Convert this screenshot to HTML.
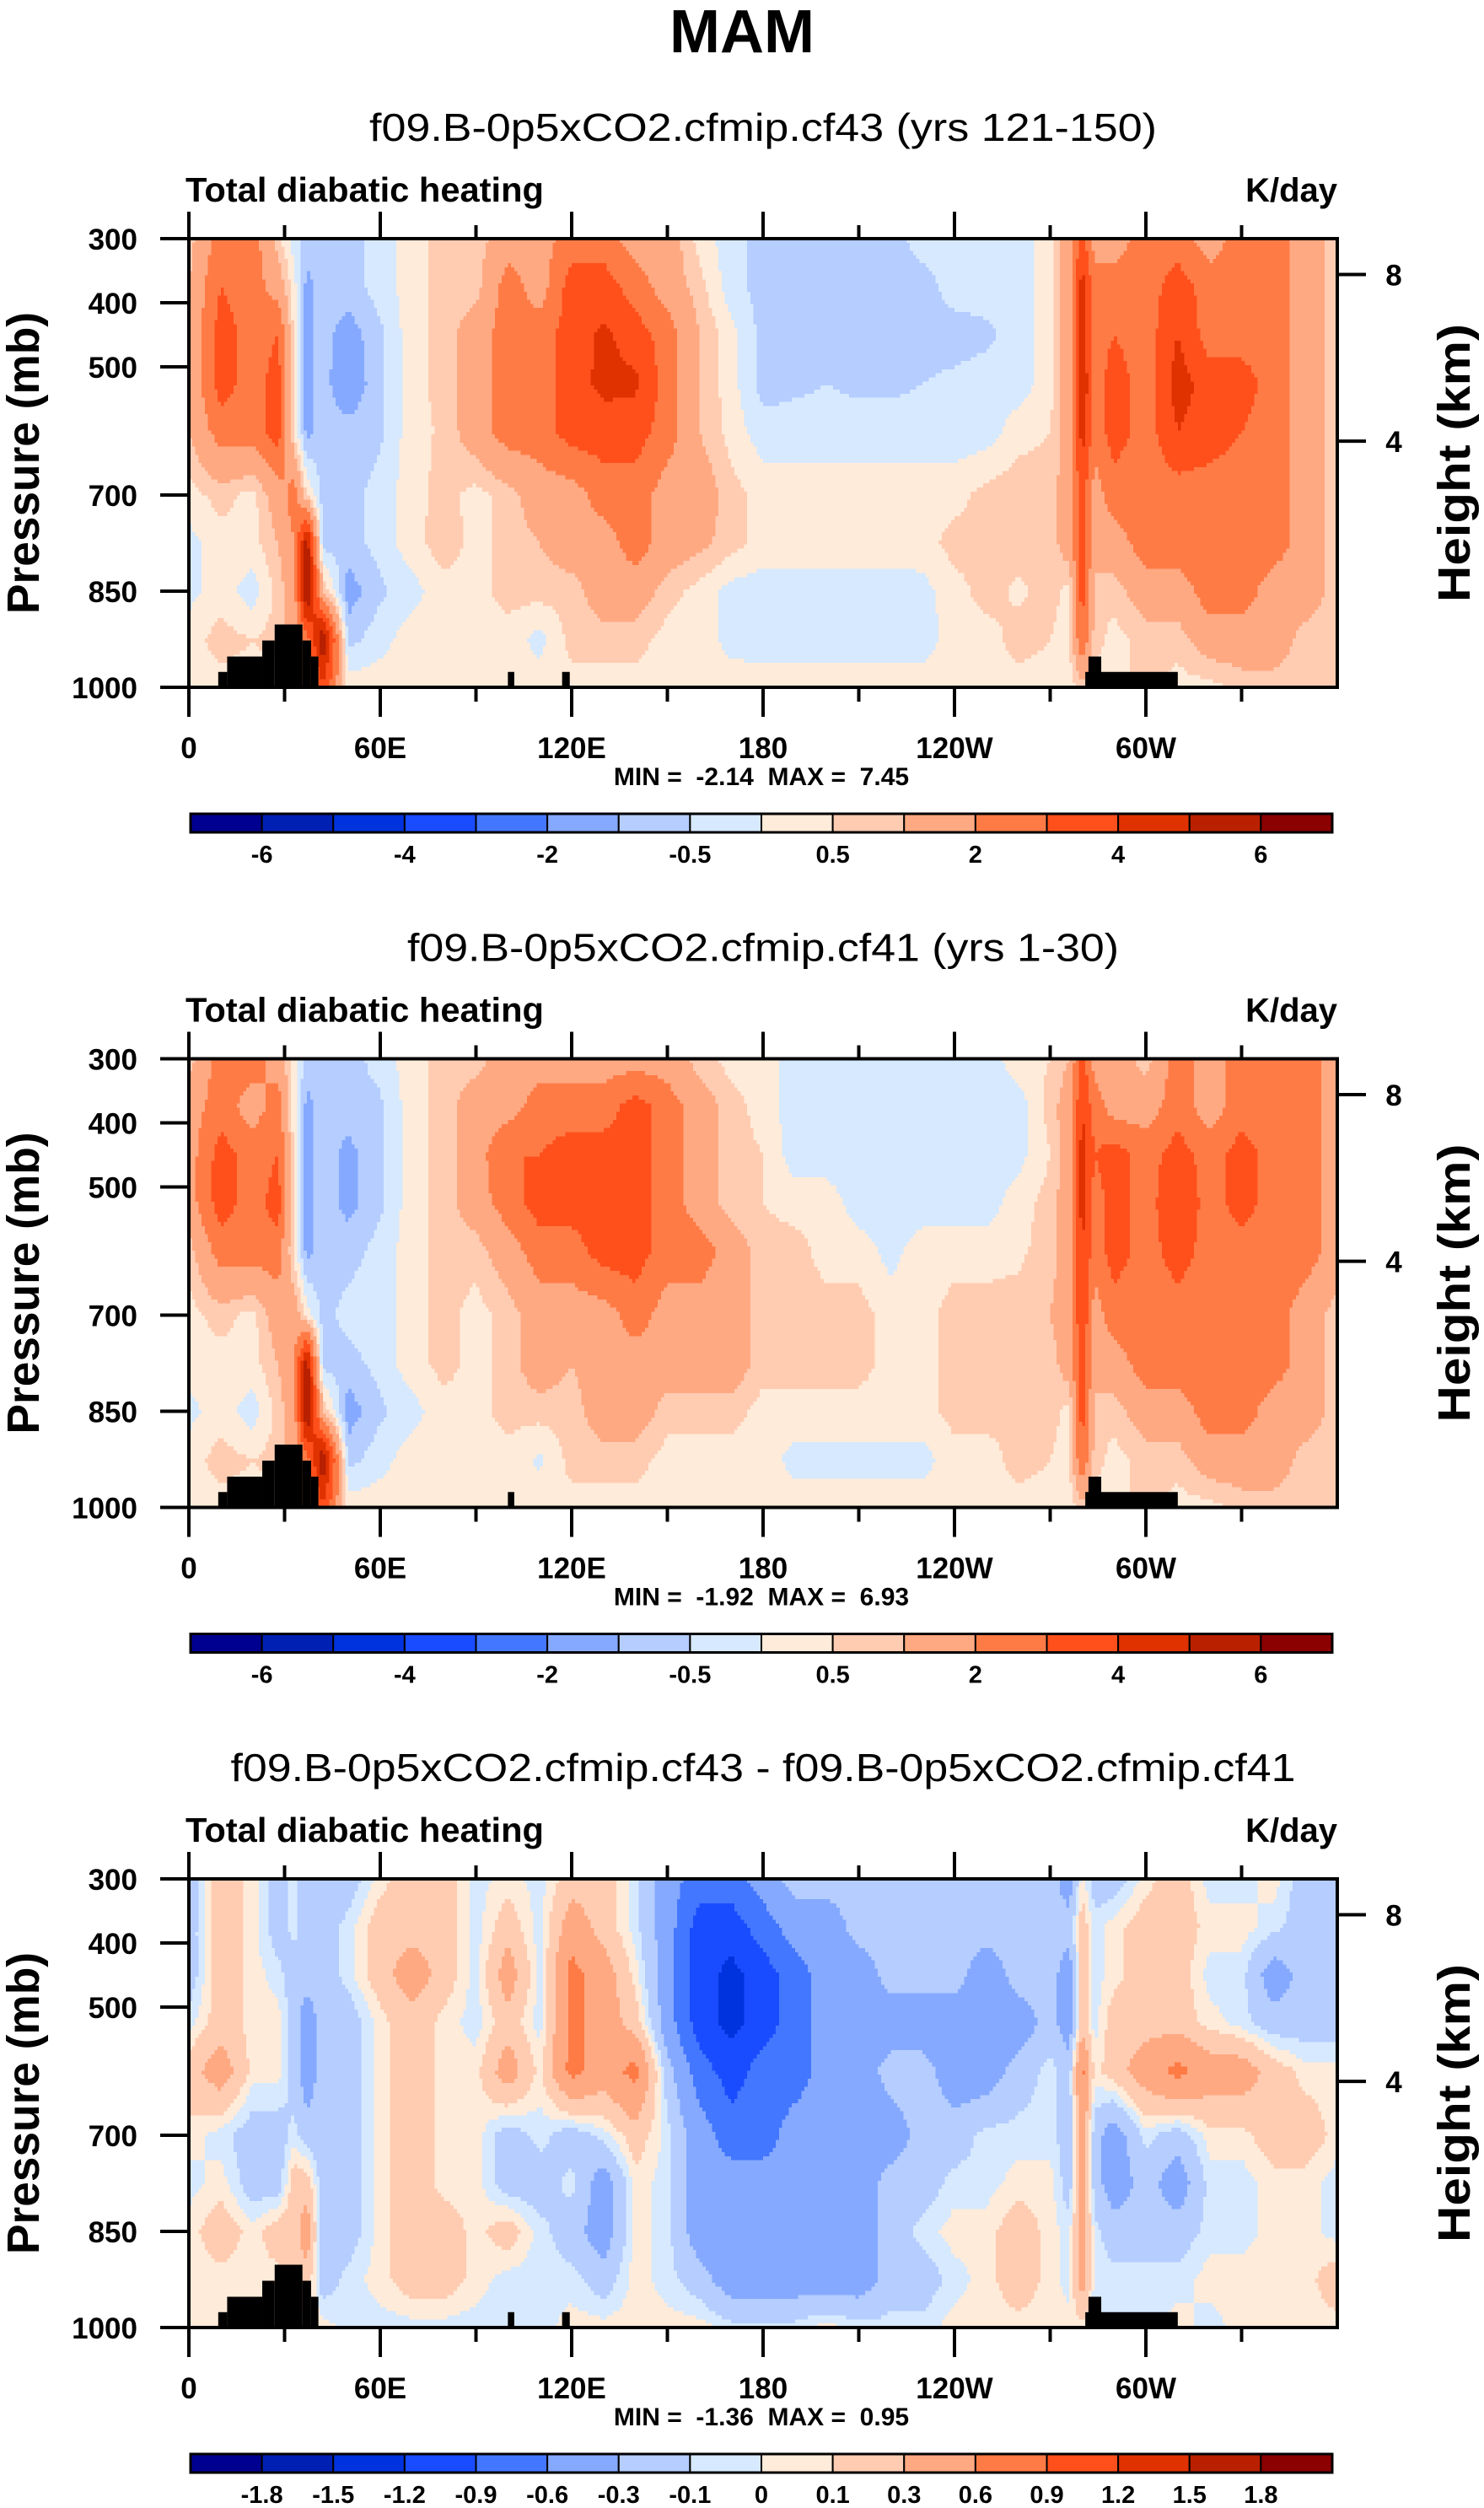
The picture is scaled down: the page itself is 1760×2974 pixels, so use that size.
<!DOCTYPE html>
<html><head><meta charset="utf-8"><title>MAM Total diabatic heating</title>
<style>
html,body{margin:0;padding:0;background:#fff;}
svg{display:block;}
text{font-family:"Liberation Sans",Arial,sans-serif;font-weight:bold;fill:#000;}
.sub{font-weight:normal;}
.pre{white-space:pre;}
</style></head>
<body>
<svg id="fig" xmlns="http://www.w3.org/2000/svg" width="1760" height="2974" viewBox="0 0 1760 2974">
<text x="880" y="62" font-size="72" text-anchor="middle">MAM</text>
</svg>
<script>
const lonNodes=[0,10,20,28,33,37,42,50,60,70,80,90,100,110,120,130,140,150,160,170,180,190,200,210,220,230,240,250,260,270,276,280,284,290,300,310,320,330,340,350,360];
const presNodes=[300,375,450,525,600,700,775,850,925,1000];
const levelsAbs=[-6,-5,-4,-3,-2,-1,-0.5,0,0.5,1,2,3,4,5,6];
const levelsDiff=[-1.8,-1.5,-1.2,-0.9,-0.6,-0.3,-0.1,0,0.1,0.3,0.6,0.9,1.2,1.5,1.8];
const labelsAbs=["","-6","","-4","","-2","","-0.5","","0.5","","2","","4","","6",""];
const labelsDiff=["","-1.8","-1.5","-1.2","-0.9","-0.6","-0.3","-0.1","0","0.1","0.3","0.6","0.9","1.2","1.5","1.8",""];
const palette=["#000090","#0020b4","#0033dd","#1a4cff","#4477ff","#85a9ff","#b5cdff","#d6e9ff","#ffebd9","#ffccb2","#ffa982","#ff7b46","#ff501c","#e03200","#b82000","#8b0000"];
const xTickLon=[0,60,120,180,240,300];
const xTickLabels=["0","60E","120E","180","120W","60W"];
const xMinorLon=[30,90,150,210,270,330];
const pTicks=[300,400,500,700,850,1000];
const hTickP=[356,616];
const hTickLabels=["8","4"];
const terrainLon0=[9.2,12,23,26.9,35.6,38.3,100,281,282];
const terrainLon1=[12,23,26.9,35.6,38.3,40.6,102,310,286];
const terrainTopP=[976,952,927,902,927,952,976,976,952];

const panel1Rows=[
[0.7,2.5,2.5,0.7,-0.3,-0.7,-0.7,-0.7,-0.3,0.3,0.7,0.7,1.5,1.5,2.5,2.5,1.5,1.5,0.3,-0.3,-0.7,-0.7,-0.7,-0.7,-0.7,-0.3,-0.3,-0.3,-0.3,0.3,1.5,3.5,1.5,1.5,2.5,2.5,1.5,2.5,2.5,1.5,0.7],
[1.0,3.0,2.5,1.5,0.2,-1.2,-0.7,-0.7,-0.3,0.3,0.7,0.7,2.5,1.5,3.5,3.5,2.5,1.5,0.7,-0.3,-0.7,-0.7,-0.7,-0.7,-0.7,-0.7,-0.3,-0.3,-0.3,0.3,1.5,4.5,2.5,2.5,2.5,3.5,2.5,2.5,2.5,1.5,0.7],
[1.0,3.5,2.5,3.0,0.3,-1.2,-0.8,-1.3,-0.6,0.3,0.7,1.5,2.5,2.5,3.5,4.2,3.5,2.5,1.0,0.2,-0.7,-0.7,-0.7,-0.7,-0.7,-0.7,-0.7,-0.6,-0.3,0.3,1.5,4.5,2.5,3.0,2.5,4.0,2.5,2.5,2.5,1.5,0.7],
[1.0,3.5,2.5,3.5,0.3,-1.2,-0.8,-1.5,-0.6,0.3,0.7,1.5,2.5,2.5,3.5,4.3,4.2,2.5,1.0,0.2,-0.7,-0.6,-0.5,-0.6,-0.6,-0.5,-0.4,-0.3,-0.3,0.3,1.5,5.0,2.5,3.5,2.5,4.5,3.5,3.5,2.5,1.5,0.7],
[1.0,2.5,2.5,3.5,0.3,-1.2,-0.7,-0.8,-0.6,0.3,0.6,1.5,2.5,2.5,3.5,3.5,3.5,2.5,1.0,0.3,-0.3,-0.3,-0.3,-0.3,-0.3,-0.3,-0.3,-0.3,0.3,0.5,1.5,4.5,2.5,3.5,2.5,4.0,3.5,3.0,2.5,1.5,0.7],
[0.3,0.7,0.3,1.5,2.5,0.5,-0.7,-0.7,-0.3,0.3,0.7,0.3,0.7,1.5,1.5,2.5,2.5,1.5,1.5,0.7,0.3,0.3,0.3,0.3,0.3,0.3,0.3,0.7,0.8,0.7,1.5,3.5,1.5,2.5,2.5,2.5,2.5,2.5,2.5,1.5,0.7],
[-0.2,0.3,0.3,1.0,2.0,5.5,-0.7,-0.7,-0.3,0.3,0.8,0.3,0.7,1.0,1.5,1.5,2.5,1.5,1.2,0.7,0.3,0.3,0.3,0.3,0.3,0.3,0.7,0.7,0.7,0.7,1.5,3.5,1.5,1.5,2.5,2.5,2.5,2.5,2.5,1.5,0.7],
[-0.2,0.3,-0.3,0.7,1.5,6.5,1.0,-1.3,-0.6,-0.2,0.3,0.3,0.7,0.7,0.7,1.5,1.5,0.7,0.3,-0.2,-0.3,-0.3,-0.3,-0.3,-0.3,-0.2,0.3,0.7,0.4,0.7,0.3,3.5,0.7,0.7,1.5,1.5,2.5,2.5,1.5,1.5,0.7],
[0.3,0.7,0.5,0.7,1.5,2.5,6.0,-0.7,-0.2,0.3,0.3,0.3,0.3,-0.2,0.7,0.7,0.7,0.3,0.3,-0.2,-0.3,-0.3,-0.3,-0.3,-0.3,-0.3,0.3,0.3,0.7,0.5,0.3,3.0,0.7,0.3,0.7,0.7,1.5,1.5,1.5,0.7,0.7],
[0.3,0.3,0.3,0.3,0.5,1.5,4.0,0.3,0.3,0.3,0.3,0.3,0.3,0.3,0.3,0.3,0.3,0.3,0.3,0.3,0.3,0.3,0.3,0.3,0.3,0.3,0.3,0.3,0.3,0.3,0.3,0.7,0.3,0.3,0.7,0.3,0.3,0.7,0.7,0.7,0.5]
];
const panel2Rows=[
[0.7,2.5,2.5,1.5,0.2,-0.7,-0.7,-0.7,-0.3,0.3,0.7,0.7,1.5,1.5,1.5,1.5,1.5,1.5,0.7,0.3,0.3,-0.3,-0.3,-0.3,-0.3,-0.3,-0.3,-0.3,0.3,0.5,1.0,3.5,1.5,1.5,0.7,2.5,1.5,2.5,2.5,2.5,1.5],
[1.5,2.5,1.5,2.5,0.2,-1.2,-0.7,-0.7,-0.6,0.3,0.7,1.5,1.5,2.5,2.5,2.5,3.5,2.5,1.5,0.7,0.3,-0.3,-0.3,-0.3,-0.3,-0.3,-0.3,-0.3,-0.3,0.7,1.5,4.0,2.5,1.5,1.5,2.5,1.5,2.5,2.5,2.5,1.5],
[1.5,3.5,2.5,3.0,0.3,-1.2,-0.7,-1.2,-0.6,0.3,0.7,1.5,3.0,3.0,3.5,3.5,3.5,2.5,1.5,0.7,0.5,-0.3,-0.3,-0.3,-0.3,-0.3,-0.3,-0.3,-0.2,0.5,1.5,4.5,3.0,3.5,2.5,3.5,2.5,3.5,2.5,2.5,1.5],
[1.5,3.5,2.5,3.5,0.3,-1.2,-0.7,-1.2,-0.6,0.3,0.7,1.5,2.5,3.5,3.5,3.6,3.5,2.5,1.5,0.7,0.5,0.3,0.3,-0.3,-0.3,-0.3,-0.3,-0.3,0.3,0.7,1.5,4.5,2.5,3.5,2.5,4.0,2.5,3.5,2.5,2.5,1.5],
[0.7,2.5,2.5,2.5,0.3,-1.2,-0.7,-0.7,-0.3,0.3,0.7,0.7,1.5,2.5,2.5,3.5,3.5,2.5,2.5,1.5,0.7,0.7,0.3,0.3,-0.2,0.3,0.3,0.3,0.4,0.7,1.5,4.0,2.5,3.5,2.5,3.5,2.5,2.5,2.5,2.5,1.5],
[0.3,0.7,0.3,1.5,1.5,0.3,-0.7,-0.3,-0.3,0.3,0.7,0.3,0.7,1.5,1.5,1.5,2.5,1.5,1.5,1.5,0.7,0.7,0.7,0.7,0.3,0.3,0.7,0.7,0.7,1.0,1.5,4.0,1.5,2.5,2.5,2.5,2.5,2.5,2.5,1.5,0.7],
[0.3,0.3,0.3,1.0,2.0,5.5,-0.7,-0.7,-0.3,0.3,0.7,0.3,0.7,1.5,1.0,1.5,1.5,1.5,1.5,1.5,0.7,0.7,0.7,0.7,0.3,0.3,0.7,0.7,0.7,0.7,1.5,3.5,1.5,1.5,2.5,2.5,2.5,2.5,2.5,1.5,0.7],
[-0.2,0.3,-0.3,0.7,1.5,6.5,1.0,-1.3,-0.6,-0.2,0.3,0.3,0.7,0.7,0.7,1.5,1.5,0.7,0.7,0.7,0.3,0.3,0.3,0.3,0.3,0.3,0.7,0.7,0.5,0.7,0.3,3.5,0.7,0.7,1.5,1.5,2.5,2.5,1.5,1.5,0.7],
[0.3,0.7,0.5,0.7,1.5,2.5,6.0,-0.7,-0.2,0.3,0.3,0.3,0.3,-0.1,0.7,0.7,0.7,0.3,0.3,0.3,0.3,-0.2,-0.2,-0.2,-0.2,-0.2,0.3,0.3,0.7,0.5,0.3,3.0,0.7,0.3,0.7,0.7,1.5,1.5,1.5,0.7,0.7],
[0.3,0.3,0.3,0.3,0.5,1.5,4.0,0.3,0.3,0.3,0.3,0.3,0.3,0.3,0.3,0.3,0.3,0.3,0.3,0.3,0.3,0.3,0.3,0.3,0.3,0.3,0.3,0.3,0.3,0.3,0.3,0.7,0.3,0.3,0.7,0.3,0.3,0.7,0.7,0.7,0.5]
];
const panel3Rows=[
[-0.2,0.2,0.05,-0.2,-0.05,-0.2,-0.2,-0.2,0.05,0.2,0.2,-0.05,0.05,-0.05,0.2,0.2,-0.05,-0.45,-0.75,-0.75,-0.45,-0.2,-0.2,-0.2,-0.2,-0.2,-0.2,-0.2,-0.2,-0.2,-0.45,0.05,-0.2,-0.2,0.05,0.2,-0.05,-0.05,0.05,-0.2,-0.2],
[-0.2,0.2,0.05,-0.2,-0.05,-0.2,-0.2,-0.05,0.2,0.2,0.2,-0.05,0.2,-0.05,0.45,0.2,-0.05,-0.45,-1.05,-1.05,-0.75,-0.45,-0.45,-0.2,-0.2,-0.2,-0.2,-0.2,-0.2,-0.2,-0.2,0.2,-0.05,0.05,0.2,0.2,0.05,0.05,-0.05,-0.2,-0.2],
[-0.2,0.2,0.05,-0.05,-0.2,-0.2,-0.2,-0.05,0.2,0.45,0.2,-0.05,0.45,-0.05,0.7,0.45,0.05,-0.45,-1.05,-1.3,-1.05,-0.75,-0.45,-0.45,-0.2,-0.2,-0.2,-0.45,-0.2,-0.2,-0.45,0.2,-0.05,0.05,0.2,0.2,-0.05,-0.05,-0.45,-0.2,-0.2],
[-0.05,0.2,0.05,0.05,-0.2,-0.45,-0.2,-0.2,0.05,0.2,0.05,-0.05,0.2,-0.05,0.7,0.45,0.2,-0.45,-1.05,-1.3,-1.05,-0.75,-0.45,-0.45,-0.45,-0.45,-0.45,-0.45,-0.45,-0.2,-0.45,0.2,-0.05,0.2,0.2,0.2,0.05,-0.05,-0.2,-0.2,-0.2],
[0.2,0.45,0.05,0.05,-0.2,-0.45,-0.2,-0.2,0.05,0.2,0.05,0.05,0.45,0.05,0.7,0.45,0.7,-0.2,-0.75,-1.05,-0.75,-0.75,-0.45,-0.45,-0.2,-0.2,-0.45,-0.45,-0.2,-0.05,-0.2,0.7,0.05,0.2,0.45,0.7,0.45,0.45,0.2,0.05,0.05],
[0.05,-0.05,-0.2,-0.2,-0.05,-0.2,-0.2,-0.2,0.05,0.2,0.05,0.05,-0.2,-0.05,-0.2,-0.05,0.2,-0.05,-0.45,-0.75,-0.75,-0.45,-0.45,-0.45,-0.45,-0.2,-0.2,-0.05,-0.05,-0.05,-0.2,0.45,-0.2,-0.45,-0.05,-0.2,0.05,0.05,0.2,0.2,0.05],
[-0.05,0.05,-0.2,-0.2,0.2,0.2,-0.2,-0.2,0.05,0.2,0.05,0.05,-0.2,-0.2,-0.05,-0.45,0.05,-0.05,-0.45,-0.45,-0.45,-0.45,-0.45,-0.45,-0.2,-0.2,-0.05,-0.05,0.05,0.05,-0.2,0.45,-0.2,-0.45,-0.2,-0.45,-0.05,-0.05,0.05,0.05,-0.05],
[0.05,0.2,0.05,0.2,0.2,0.45,-0.2,-0.2,0.05,0.2,0.2,0.05,0.2,-0.05,-0.2,-0.45,0.05,-0.05,-0.45,-0.45,-0.45,-0.45,-0.45,-0.45,-0.2,-0.05,0.05,0.05,0.2,0.05,-0.05,0.45,-0.05,-0.2,-0.2,-0.2,-0.05,-0.05,0.05,0.05,-0.05],
[0.05,0.05,0.05,0.05,0.2,0.2,-0.2,-0.05,0.05,0.2,0.2,0.05,-0.05,-0.05,-0.05,-0.2,0.05,-0.05,-0.2,-0.45,-0.45,-0.45,-0.45,-0.45,-0.2,-0.2,-0.05,0.05,0.2,0.05,-0.05,0.45,-0.05,-0.05,-0.05,-0.05,0.05,0.05,0.05,0.05,0.2],
[0.05,0.05,0.05,0.05,0.05,0.05,0.05,-0.05,-0.05,-0.05,-0.05,-0.05,-0.05,-0.05,0.05,0.05,0.05,0.05,0.05,-0.05,-0.05,-0.05,0.05,-0.05,-0.05,-0.05,0.05,0.05,0.05,0.05,0.05,0.05,-0.05,-0.05,-0.05,0.05,-0.05,0.05,0.05,0.05,0.05]
];
const panelTitles=["f09.B-0p5xCO2.cfmip.cf43 (yrs 121-150)","f09.B-0p5xCO2.cfmip.cf41 (yrs 1-30)","f09.B-0p5xCO2.cfmip.cf43 - f09.B-0p5xCO2.cfmip.cf41"];
const panelTitleWidths=[934,844,1263];
const panelMin=["-2.14","-1.92","-1.36"];
const panelMax=["7.45","6.93","0.95"];

const NS="http://www.w3.org/2000/svg";
const svg=document.getElementById('fig');
const PX0=224,PX1=1586,PH=532,PY0=283,STEP=972.5;
function xs(lon){return PX0+lon/360*(PX1-PX0);}
function ys(p,off){return PY0+off+(p-300)/700*PH;}
function mk(tag,attrs,parent){const e=document.createElementNS(NS,tag);for(const k in attrs)e.setAttribute(k,attrs[k]);(parent||svg).appendChild(e);return e;}
function seg(arr,v){let i=0;while(i<arr.length-2&&v>arr[i+1])i++;return [i,(v-arr[i])/(arr[i+1]-arr[i])];}
function sample(rows,lon,p){const [i,tx]=seg(lonNodes,lon);const [j,ty]=seg(presNodes,p);
  const a=rows[j][i]*(1-tx)+rows[j][i+1]*tx;const b=rows[j+1][i]*(1-tx)+rows[j+1][i+1]*tx;return a*(1-ty)+b*ty;}
function colorIdx(v,levels){let k=0;while(k<levels.length&&v>=levels[k])k++;return k;}

const allRows=[panel1Rows,panel2Rows,panel3Rows];
for(let n=0;n<3;n++){
  const off=n*STEP;const rows=allRows[n];const levels=n<2?levelsAbs:levelsDiff;const labels=n<2?labelsAbs:labelsDiff;
  const g=mk('g',{});
  
  
  const t=mk('text',{x:905,y:167+off,'font-size':46,'text-anchor':'middle','class':'sub',textLength:panelTitleWidths[n],lengthAdjust:'spacingAndGlyphs'},g);t.textContent=panelTitles[n];
  
  
  const lt=mk('text',{x:220,y:239+off,'font-size':41,textLength:425,lengthAdjust:'spacingAndGlyphs'},g);lt.textContent='Total diabatic heating';
  
  
  const ut=mk('text',{x:1586,y:239+off,'font-size':40,'text-anchor':'end'},g);ut.textContent='K/day';
  
  
  const cg=mk('g',{'shape-rendering':'crispEdges'},g);
  
  
  const NR=110,dp=700/NR;
  for(let r=0;r<NR;r++){
    const p=300+(r+0.5)*dp;let start=0,cur=-1;
    for(let l=0;l<=360;l++){
      const c=l<360?colorIdx(sample(rows,l+0.5,p),levels):-2;
      if(c!==cur){
        if(cur>=0){const x0=xs(start),x1=xs(l);const y0=ys(300+r*dp,off);
          const rc=mk('rect',{x:x0.toFixed(1),y:y0.toFixed(1),width:(x1-x0+0.6).toFixed(1),height:(PH/NR+0.6).toFixed(2),fill:palette[cur]},cg);
          
          }
        cur=c;start=l;}
    }
  }
  for(let k=0;k<terrainLon0.length;k++){
    const x0=xs(terrainLon0[k]),x1=xs(terrainLon1[k]),y0=ys(terrainTopP[k],off);
    const tr=mk('rect',{x:x0,y:y0,width:x1-x0,height:ys(1000,off)-y0,fill:'#000'},g);
    
    
  }
  if(n!==1){const x0=xs(117),x1=xs(119.4),y0=ys(976,off);
    const tr=mk('rect',{x:x0,y:y0,width:x1-x0,height:ys(1000,off)-y0,fill:'#000'},g);
    
    }
  const fr=mk('rect',{x:PX0,y:PY0+off,width:PX1-PX0,height:PH,fill:'none',stroke:'#000','stroke-width':4},g);
  
  
  xTickLon.forEach((lon,i)=>{const x=xs(lon);
    mk('line',{x1:x,x2:x,y1:PY0+off,y2:PY0+off-32,stroke:'#000','stroke-width':4},g);
    mk('line',{x1:x,x2:x,y1:PY0+off+PH,y2:PY0+off+PH+35,stroke:'#000','stroke-width':4},g);
    const tl=mk('text',{x:x,y:899+off,'font-size':35,'text-anchor':'middle'},g);tl.textContent=xTickLabels[i];
    
    });
  xMinorLon.forEach(lon=>{const x=xs(lon);
    mk('line',{x1:x,x2:x,y1:PY0+off,y2:PY0+off-16,stroke:'#000','stroke-width':4},g);
    mk('line',{x1:x,x2:x,y1:PY0+off+PH,y2:PY0+off+PH+17,stroke:'#000','stroke-width':4},g);});
  pTicks.forEach(p=>{const y=ys(p,off);
    mk('line',{x1:PX0,x2:PX0-34,y1:y,y2:y,stroke:'#000','stroke-width':4},g);
    const tl=mk('text',{x:163,y:y+13,'font-size':35,'text-anchor':'end'},g);tl.textContent=String(p);
    
    });
  hTickP.forEach((p,i)=>{const y=ys(p,off);
    mk('line',{x1:PX1,x2:PX1+34,y1:y,y2:y,stroke:'#000','stroke-width':4},g);
    const tl=mk('text',{x:1653,y:y+13,'font-size':35,'text-anchor':'middle'},g);tl.textContent=hTickLabels[i];
    
    });
  const yt=mk('text',{x:0,y:0,'font-size':54,'text-anchor':'middle',transform:`translate(46,${549+off}) rotate(-90)`,textLength:358,lengthAdjust:'spacingAndGlyphs'},g);yt.textContent='Pressure (mb)';
  
  
  const ht=mk('text',{x:0,y:0,'font-size':54,'text-anchor':'middle',transform:`translate(1743,${549+off}) rotate(-90)`,textLength:330,lengthAdjust:'spacingAndGlyphs'},g);ht.textContent='Height (km)';
  
  
  const mm=mk('text',{x:903,y:931+off,'font-size':30,'text-anchor':'middle','class':'pre'},g);
  mm.textContent='MIN =  '+panelMin[n]+'  MAX =  '+panelMax[n];
  
  
  const cb=mk('g',{},g);
  
  
  const cx0=226,cx1=1580,cy=965+off,chh=22,bw=(cx1-cx0)/16;
  for(let k=0;k<16;k++){
    const b=mk('rect',{x:cx0+k*bw,y:cy,width:bw,height:chh,fill:palette[k],stroke:'#000','stroke-width':2},cb);
    
    
  }
  mk('rect',{x:cx0,y:cy,width:cx1-cx0,height:chh,fill:'none',stroke:'#000','stroke-width':3},cb);
  for(let k=1;k<16;k++){if(!labels[k])continue;
    const tl=mk('text',{x:cx0+k*bw,y:cy+58,'font-size':29,'text-anchor':'middle'},cb);tl.textContent=labels[k];
    
    }
}
</script>
</body></html>
